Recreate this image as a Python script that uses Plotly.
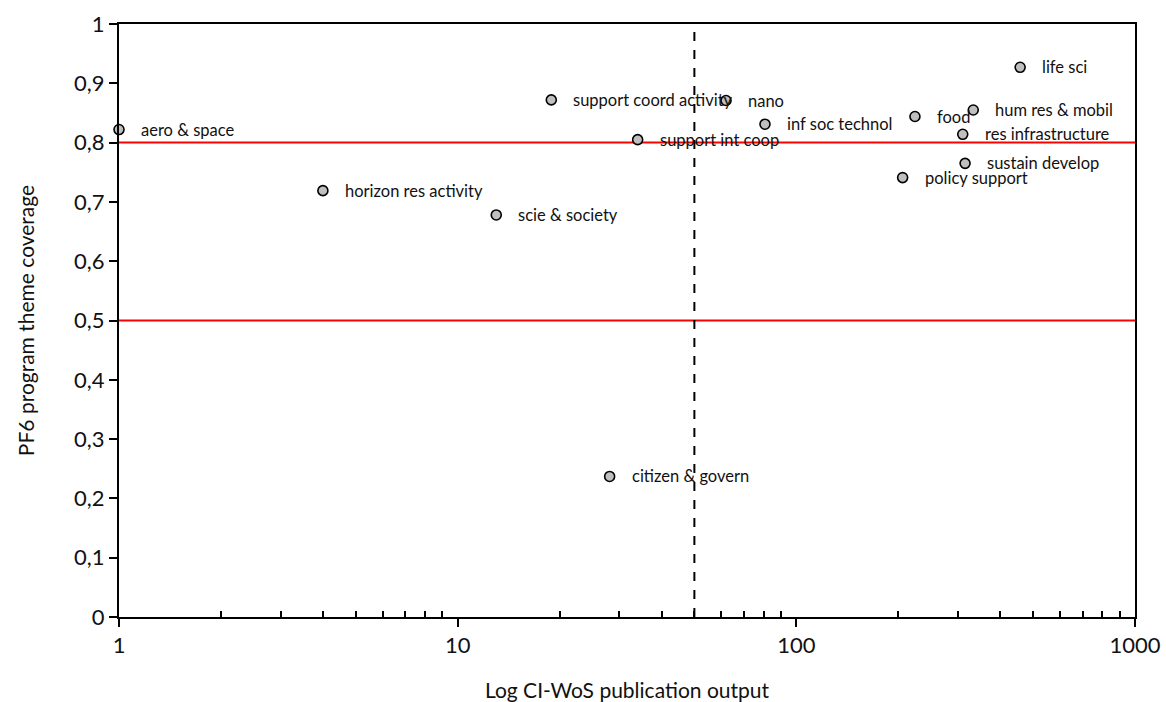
import math
import plotly.graph_objects as go

labels = ["aero & space", "horizon res activity", "scie & society", "support coord activity",
          "citizen & govern", "support int coop", "nano", "inf soc technol", "food",
          "hum res & mobil", "res infrastructure", "life sci", "sustain develop", "policy support"]
pubs = [1.0, 4.0, 13.0, 18.9, 28.1, 34.0, 62.0, 80.8, 224, 333, 310, 458, 315, 206]
coverage = [0.822, 0.719, 0.678, 0.872, 0.237, 0.805, 0.871, 0.831, 0.844, 0.855, 0.814, 0.927, 0.765, 0.741]

hlines = [0.8, 0.5]
vline = 50

FONT = "Lato, Open Sans, sans-serif"

fig = go.Figure()
fig.add_trace(go.Scatter(
    x=pubs, y=coverage, mode="markers",
    marker=dict(size=10, color="#BFBFBF", line=dict(color="black", width=1.6)),
    showlegend=False, hoverinfo="text", text=labels, cliponaxis=False))

for lab, xv, yv in zip(labels, pubs, coverage):
    fig.add_annotation(x=math.log10(xv), y=yv, xref="x", yref="y", text=lab, showarrow=False,
                       xanchor="left", yanchor="middle", xshift=20,
                       font=dict(family=FONT, size=16.5, color="#111"))

for h in hlines:
    fig.add_shape(type="line", xref="paper", yref="y", x0=0, x1=1, y0=h, y1=h,
                  line=dict(color="#FF0000", width=2), layer="below")
fig.add_shape(type="line", xref="x", yref="paper", x0=vline, x1=vline, y0=0, y1=1,
              line=dict(color="black", width=2, dash="dash"), layer="below")

fig.update_layout(
    width=1166, height=702,
    margin=dict(l=119, r=31, t=24, b=85),
    paper_bgcolor="white", plot_bgcolor="white",
    separators=",.",
    font=dict(family=FONT, size=22, color="#111"),
    xaxis=dict(type="log", range=[0, 3], tickvals=[1, 10, 100, 1000],
               ticktext=["1", "10", "100", "1000"], automargin=False,
               showgrid=False, zeroline=False, showline=True, linecolor="black", linewidth=2,
               mirror=True, ticks="outside", ticklen=8, tickwidth=2, tickcolor="black",
               tickfont=dict(size=22),
               minor=dict(ticks="inside", ticklen=6, tickwidth=1.5, tickcolor="black",
                          tickvals=[2, 3, 4, 5, 6, 7, 8, 9, 20, 30, 40, 50, 60, 70, 80, 90,
                                    200, 300, 400, 500, 600, 700, 800, 900], showgrid=False),
               title=dict(text="Log CI-WoS publication output", standoff=26, font=dict(size=21))),
    yaxis=dict(range=[0, 1], dtick=0.1, showgrid=False, zeroline=False, showline=True,
               linecolor="black", linewidth=2, mirror=True, ticks="outside", ticklen=8,
               tickwidth=2, tickcolor="black", tickfont=dict(size=22), automargin=False,
               title=dict(text="PF6 program theme coverage", standoff=34, font=dict(size=21))),
)

fig.write_html("out.html")
